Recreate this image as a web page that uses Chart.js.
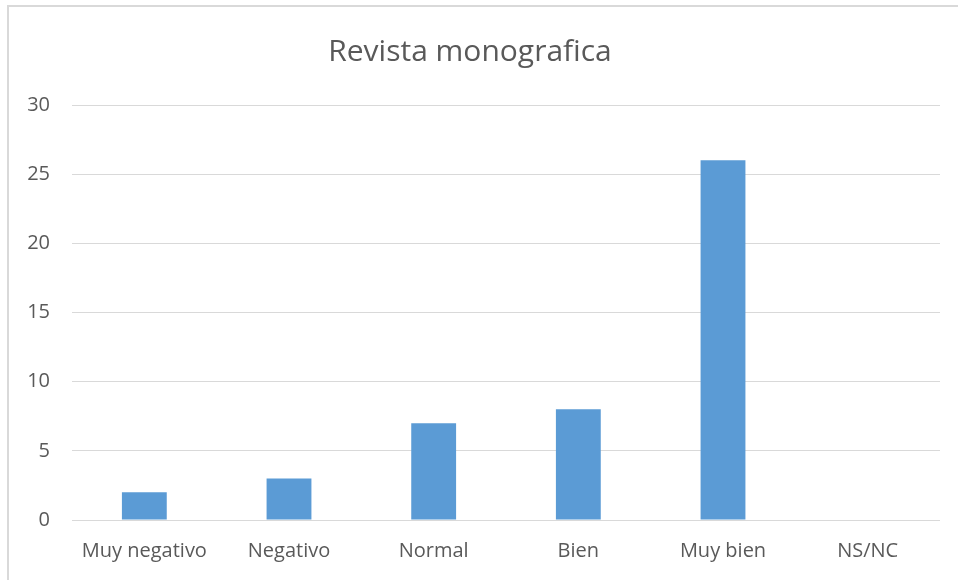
<!DOCTYPE html>
<html>
<head>
<meta charset="utf-8">
<script src="https://cdn.jsdelivr.net/npm/chart.js@4"></script>
<style>
  html, body { margin: 0; padding: 0; background: #fff; }
  #marco { position: absolute; left: 7px; top: 5px; width: 960px; height: 580px;
           border-left: 2px solid #d9d9d9; border-top: 2px solid #d9d9d9; }
  #wrap { position: absolute; left: 0; top: 0; width: 958px; height: 580px; }
</style>
</head>
<body>
<div id="marco"></div>
<div id="wrap"><canvas id="grafico"></canvas></div>
<script>
const categorias = ["Muy negativo", "Negativo", "Normal", "Bien", "Muy bien", "NS/NC"];
const valores = [2, 3, 7, 8, 26, 0];
const titulo = "Revista monografica";

const gris = "#595959";
const fuente = "'Open Sans', 'Liberation Sans', sans-serif";

const ctx = document.getElementById("grafico").getContext("2d");
new Chart(ctx, {
  type: 'bar',
  data: {
    labels: categorias,
    datasets: [{
      data: valores,
      backgroundColor: '#5b9bd5',
      barPercentage: 0.31,
      categoryPercentage: 1
    }]
  },
  options: {
    responsive: true,
    maintainAspectRatio: false,
    animation: false,
    layout: { padding: { left: 0, right: 18, top: 0, bottom: 0 } },
    plugins: {
      legend: { display: false },
      tooltip: { enabled: false },
      title: {
        display: true,
        text: titulo,
        color: gris,
        font: { family: fuente, size: 30, weight: 'normal' },
        padding: { top: 34, bottom: 35 }
      }
    },
    scales: {
      x: {
        grid: { display: false, drawTicks: false },
        border: { display: false },
        ticks: { color: gris, font: { family: fuente, size: 20 }, padding: 19, maxRotation: 0 },
        afterFit: s => { s.height = 60; }
      },
      y: {
        min: 0,
        max: 30,
        grid: { color: '#d9d9d9', lineWidth: 1, drawTicks: false },
        border: { display: false },
        ticks: { stepSize: 5, color: gris, font: { family: fuente, size: 20 }, padding: 22 },
        afterFit: s => { s.width = 72; }
      }
    }
  }
});
</script>
</body>
</html>
